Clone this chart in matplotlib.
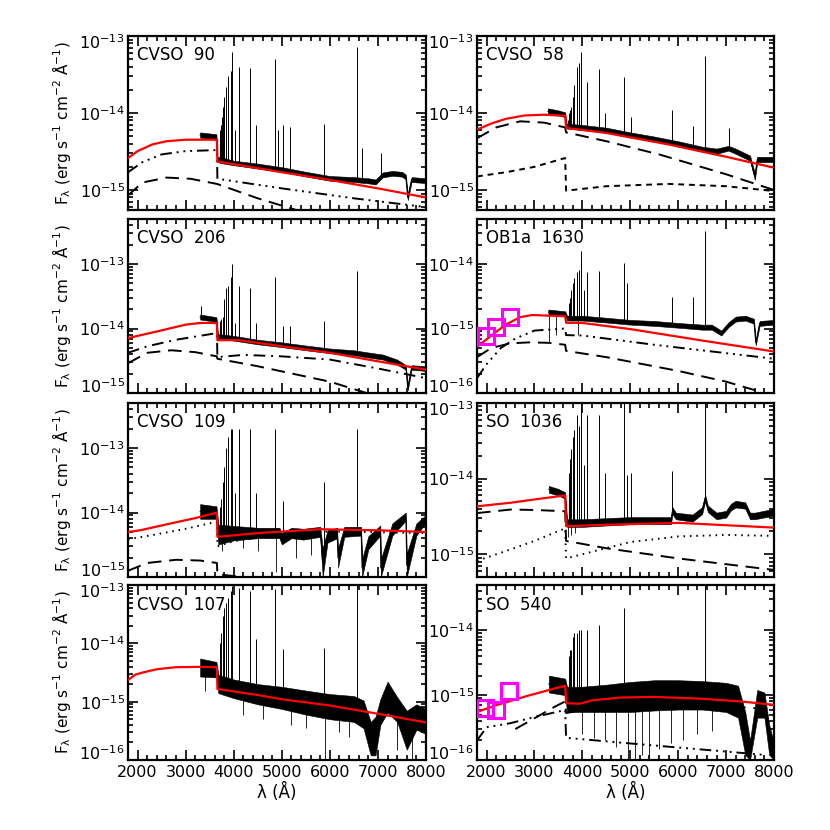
import numpy as np
import matplotlib
matplotlib.use("Agg")
import matplotlib.pyplot as plt
from matplotlib.ticker import LogLocator, NullFormatter, MultipleLocator, FixedLocator, FuncFormatter

plt.rcParams['font.family'] = ['DejaVu Sans']
plt.rcParams['mathtext.default'] = 'regular'

# ---------------- data ----------------
XTICKS = [2000, 3000, 4000, 5000, 6000, 7000, 8000]

# CVSO 90
cvso90_total = [(1800,2.6e-15),(2000,3.2e-15),(2300,3.9e-15),(2600,4.3e-15),(3000,4.5e-15),(3650,4.5e-15),(3660,2.35e-15),(5000,1.7e-15),(6000,1.35e-15),(7000,1.05e-15),(8000,8e-16)]
cvso90_ddd = [(1800,1.7e-15),(2100,2.3e-15),(2500,2.9e-15),(3000,3.2e-15),(3650,3.3e-15),(3660,1.4e-15),(5000,1.05e-15),(6500,7.8e-16),(8000,6e-16)]
cvso90_ld = [(1800,8.5e-16),(2100,1.25e-15),(2600,1.45e-15),(3100,1.4e-15),(3650,1.2e-15),(4500,7.8e-16),(5300,5.5e-16)]
cvso90_spec_wl = [3300,3640,3660,3800,4000,4500,5000,5500,6000,6500,6800,6950,7100,7300,7500,7580,7620,7700,8000]
cvso90_spec_lo = [4.8e-15,4.5e-15,2.3e-15,2.2e-15,2.1e-15,1.9e-15,1.72e-15,1.5e-15,1.32e-15,1.27e-15,1.22e-15,1.18e-15,1.46e-15,1.53e-15,1.49e-15,1.37e-15,7.4e-16,1.27e-15,1.23e-15]
cvso90_spec_hi = [5.6e-15,5.3e-15,2.7e-15,2.6e-15,2.4e-15,2.2e-15,1.98e-15,1.72e-15,1.52e-15,1.47e-15,1.42e-15,1.37e-15,1.69e-15,1.77e-15,1.72e-15,1.59e-15,8.6e-16,1.47e-15,1.42e-15]
cvso90_lines = [(3704,4e-15),(3712,5e-15),(3722,6e-15),(3734,7e-15),(3750,9e-15),(3771,1.2e-14),(3798,1.6e-14),(3835,2.2e-14),(3889,3.0e-14),(3934,3.5e-14),(3970,6.2e-14),(4026,6e-15),(4102,4.0e-14),(4340,3.8e-14),(4471,7e-15),(4861,5.1e-14),(4924,6e-15),(5018,7e-15),(5169,6.5e-15),(5876,7.2e-15),(6563,7.2e-14),(6678,3.5e-15),(7065,3e-15)]
cvso90_dips = []

# CVSO 58
cvso58_total = [(1800,6.1e-15),(2100,7.3e-15),(2400,8.4e-15),(2800,9.3e-15),(3200,9.5e-15),(3640,9.2e-15),(3660,6.4e-15),(4500,5.5e-15),(5800,3.9e-15),(7000,2.7e-15),(8000,1.95e-15)]
cvso58_ld = [(1800,4.7e-15),(2200,6.5e-15),(2700,7.8e-15),(3200,7.5e-15),(3640,6.5e-15),(3660,5.6e-15),(4500,4.3e-15),(5600,2.9e-15),(7000,1.6e-15),(8000,1.0e-15)]
cvso58_sd = [(1800,1.5e-15),(2400,1.7e-15),(3000,2.0e-15),(3640,2.6e-15),(3660,0.98e-15),(4500,1.12e-15),(5800,1.2e-15),(7000,1.12e-15),(8000,0.97e-15)]
cvso58_spec_wl = [3280,3500,3640,3670,4000,4500,5000,5500,6000,6500,6800,7050,7200,7500,7600,7650,8000]
cvso58_spec_lo = [9.6e-15,9.3e-15,8.8e-15,6.3e-15,6.0e-15,5.6e-15,4.85e-15,4.3e-15,3.7e-15,3.15e-15,2.95e-15,3.25e-15,2.95e-15,2.4e-15,1.35e-15,2.3e-15,2.3e-15]
cvso58_spec_hi = [1.15e-14,1.08e-14,1.02e-14,7.3e-15,7.0e-15,6.45e-15,5.6e-15,4.95e-15,4.3e-15,3.65e-15,3.45e-15,3.75e-15,3.45e-15,2.8e-15,1.65e-15,2.7e-15,2.7e-15]
cvso58_lines = [(3704,8e-15),(3712,9e-15),(3722,1.0e-14),(3734,1.1e-14),(3770,1.2e-14),(3798,1.6e-14),(3835,2.3e-14),(3889,3.9e-14),(3934,4.4e-14),(3970,6.2e-14),(4102,2.5e-14),(4340,3.7e-14),(4471,1.0e-14),(4861,2.9e-14),(5018,9e-15),(5876,1.1e-14),(6300,6.7e-15),(6563,5.5e-14),(7065,6.3e-15)]
cvso58_dips = []

# CVSO 206
cvso206_total = [(1800,7.1e-15),(2100,8.0e-15),(2400,9.0e-15),(3000,1.15e-14),(3300,1.22e-14),(3650,1.22e-14),(3660,6.6e-15),(4100,6.6e-15),(5000,5.3e-15),(6000,4.2e-15),(7000,3.1e-15),(8000,2.3e-15)]
cvso206_dd = [(1800,4.2e-15),(2200,5.3e-15),(2800,6.7e-15),(3650,8.5e-15),(3660,3.6e-15),(4200,3.9e-15),(5000,3.7e-15),(6000,3.3e-15),(7000,2.4e-15),(8000,1.7e-15)]
cvso206_ld = [(1800,2.9e-15),(2200,4.2e-15),(2700,4.6e-15),(3200,4.3e-15),(3650,3.7e-15),(3660,3.4e-15),(4500,2.6e-15),(5500,1.8e-15),(6000,1.5e-15),(6800,0.98e-15)]
cvso206_spec_wl = [3300,3640,3670,4000,4500,5000,5500,6000,6500,6800,7100,7400,7580,7620,7700,8000]
cvso206_spec_lo = [1.38e-14,1.27e-14,6.9e-15,6.5e-15,5.7e-15,5.15e-15,4.6e-15,4.15e-15,3.85e-15,3.55e-15,3.3e-15,2.75e-15,2.3e-15,1.1e-15,2.3e-15,2.2e-15]
cvso206_spec_hi = [1.65e-14,1.5e-14,8.2e-15,7.7e-15,6.7e-15,6.1e-15,5.45e-15,4.9e-15,4.6e-15,4.25e-15,3.95e-15,3.3e-15,2.7e-15,1.3e-15,2.7e-15,2.6e-15]
cvso206_lines = [(3310,2.2e-14),(3704,9e-15),(3712,1.1e-14),(3722,1.3e-14),(3734,1.4e-14),(3770,1.5e-14),(3798,2.9e-14),(3835,4.2e-14),(3889,4.5e-14),(3934,6.3e-14),(3970,1.0e-13),(4026,1.2e-14),(4102,4.6e-14),(4340,4.3e-14),(4471,1.2e-14),(4861,6.3e-14),(5018,1.1e-14),(5169,1.1e-14),(5876,1.3e-14),(6563,7.9e-14)]
cvso206_dips = []

# OB1a 1630
ob1630_total = [(1800,5.2e-16),(2100,7.8e-16),(2400,1.15e-15),(2700,1.5e-15),(2950,1.62e-15),(3640,1.55e-15),(3660,1.23e-15),(4000,1.22e-15),(5000,9.8e-16),(6450,6.6e-16),(8000,4.4e-16)]
ob1630_ddd = [(1800,1.7e-16),(2000,2.8e-16),(2300,5.0e-16),(2600,7.0e-16),(3000,9.3e-16),(3640,1.0e-15),(3660,7.9e-16),(4000,7.8e-16),(5500,5.6e-16),(8000,3.4e-16)]
ob1630_ld = [(1800,3.6e-16),(2100,5.0e-16),(2500,5.9e-16),(2900,6.1e-16),(3300,6.0e-16),(3640,5.6e-16),(3660,4.5e-16),(4500,3.6e-16),(6000,2.2e-16),(7000,1.5e-16),(7800,1.0e-16)]
ob1630_phot_wl = [1990, 2200, 2480]
ob1630_phot_f = [7.7e-16, 1.07e-15, 1.5e-15]
ob1630_spec_wl = [3290,3640,3680,4000,4500,5000,5500,6000,6500,6700,6900,7050,7200,7400,7580,7620,7700,8000]
ob1630_spec_lo = [1.65e-15,1.56e-15,1.33e-15,1.33e-15,1.24e-15,1.15e-15,1.1e-15,1.03e-15,9.6e-16,9.6e-16,7.8e-16,1.05e-15,1.28e-15,1.33e-15,1.19e-15,5.5e-16,1.1e-15,1.15e-15]
ob1630_spec_hi = [1.97e-15,1.85e-15,1.58e-15,1.58e-15,1.47e-15,1.36e-15,1.31e-15,1.22e-15,1.15e-15,1.15e-15,9.3e-16,1.25e-15,1.53e-15,1.58e-15,1.42e-15,6.5e-16,1.31e-15,1.36e-15]
ob1630_lines = [(3712,2.5e-15),(3734,3e-15),(3770,4e-15),(3798,5e-15),(3835,6e-15),(3889,7.5e-15),(3934,8e-15),(3970,1.6e-14),(4026,4e-15),(4102,7.5e-15),(4340,7.7e-15),(4861,1.05e-14),(4924,5e-15),(5876,3.1e-15),(6300,3.1e-15),(6563,3.2e-14)]
ob1630_dips = [(3300,6e-16),(3450,8e-16),(3900,8e-16)]

# CVSO 109
cvso109_total = [(1800,5.0e-15),(2050,5.3e-15),(2700,6.8e-15),(3200,8.2e-15),(3650,1.0e-14),(3660,4.2e-15),(4500,4.8e-15),(5800,5.5e-15),(7000,5.3e-15),(8000,5.0e-15)]
cvso109_dot = [(1800,3.85e-15),(2400,4.6e-15),(3000,5.6e-15),(3650,7.2e-15),(3660,3.0e-15),(4000,3.6e-15),(5000,4.6e-15),(6000,5.1e-15),(8000,4.8e-15)]
cvso109_ld = [(1800,1.25e-15),(2200,1.65e-15),(2800,1.85e-15),(3300,1.8e-15),(3650,1.65e-15),(3660,1.1e-15),(4200,1.0e-15),(5000,0.9e-15)]
cvso109_spec_wl = [3300,3640,3680,4000,4500,4950,5000,5200,5450,5800,5850,5950,6150,6170,6300,6650,6670,6800,7050,7060,7300,7580,7600,7800,8000]
cvso109_spec_lo = [8e-15,8e-15,3.2e-15,3.7e-15,4.0e-15,4.0e-15,3.2e-15,4.0e-15,3.8e-15,4.2e-15,1.0e-15,3.4e-15,4.0e-15,1.4e-15,4.2e-15,4.4e-15,1.0e-15,2.7e-15,4.4e-15,1.0e-15,4.4e-15,7.5e-15,1.0e-15,4.4e-15,7e-15]
cvso109_spec_hi = [1.35e-14,1.25e-14,6.5e-15,6.2e-15,5.8e-15,5.8e-15,4.8e-15,5.8e-15,5.6e-15,6.0e-15,2.8e-15,5.3e-15,5.8e-15,2.8e-15,6.0e-15,6.0e-15,1.9e-15,4.3e-15,6.3e-15,1.9e-15,6.8e-15,1.0e-14,2.3e-15,6.8e-15,9.2e-15]
cvso109_lines = [(3712,1.2e-14),(3734,1.6e-14),(3770,3e-14),(3798,5e-14),(3835,1.0e-13),(3889,1.5e-13),(3934,2e-13),(3970,2e-13),(4026,2e-14),(4102,2e-13),(4340,2e-13),(4471,2e-14),(4861,2e-13),(5018,1.5e-14),(5876,3e-14),(6563,2e-13)]
cvso109_dips = [(3760,2.5e-15),(4200,2.8e-15),(4500,2.5e-15),(4880,1.2e-15),(5300,2e-15),(5600,2.2e-15)]

# SO 1036
so1036_total = [(1800,4.3e-15),(2500,4.8e-15),(3000,5.3e-15),(3640,6.0e-15),(3660,2.35e-15),(4500,2.45e-15),(6000,2.6e-15),(8000,2.25e-15)]
so1036_ld = [(1800,3.5e-15),(2500,3.9e-15),(3000,3.85e-15),(3640,3.7e-15),(3660,1.5e-15),(4500,1.2e-15),(6000,8.8e-16),(8000,6.2e-16)]
so1036_dot = [(1800,8.2e-16),(2400,1.1e-15),(3000,1.5e-15),(3640,2.2e-15),(3660,8.8e-16),(4000,1.0e-15),(5000,1.45e-15),(6000,1.72e-15),(7000,1.8e-15),(8000,1.75e-15)]
so1036_spec_wl = [3300,3500,3640,3680,4000,4500,5000,5500,5850,5880,5950,6300,6500,6563,6620,6800,7000,7100,7200,7400,7500,7600,8000]
so1036_spec_lo = [6.5e-15,6.0e-15,5.4e-15,2.3e-15,2.3e-15,2.4e-15,2.5e-15,2.5e-15,2.5e-15,3.4e-15,2.9e-15,2.7e-15,3.4e-15,5.0e-15,3.6e-15,2.9e-15,3.05e-15,3.8e-15,4.15e-15,4.0e-15,2.9e-15,2.9e-15,3.25e-15]
so1036_spec_hi = [8.0e-15,7.3e-15,6.6e-15,2.9e-15,2.9e-15,3.0e-15,3.1e-15,3.1e-15,3.1e-15,4.2e-15,3.55e-15,3.35e-15,4.2e-15,6.1e-15,4.4e-15,3.55e-15,3.75e-15,4.65e-15,5.1e-15,4.85e-15,3.55e-15,3.55e-15,4.0e-15]
so1036_lines = [(3712,1.2e-14),(3734,1.8e-14),(3770,2.5e-14),(3798,3.5e-14),(3835,4.4e-14),(3889,7e-14),(3934,5e-14),(3970,1e-13),(4026,1.5e-14),(4102,7e-14),(4340,7e-14),(4471,1.2e-14),(4861,1e-13),(4924,1.1e-14),(5018,1.2e-14),(5876,1.25e-14),(6563,1e-13)]
so1036_dips = [(3700,1.7e-15),(3760,1.8e-15),(3850,1.9e-15)]

# CVSO 107
cvso107_total = [(1800,2.35e-15),(1950,2.9e-15),(2100,3.15e-15),(2400,3.6e-15),(2800,3.9e-15),(3300,3.95e-15),(3650,3.9e-15),(3660,1.65e-15),(4500,1.3e-15),(5000,1.1e-15),(6000,8.6e-16),(7000,6.2e-16),(8000,4.4e-16)]
cvso107_spec_wl = [3300,3640,3680,4000,4500,5000,5500,6000,6500,6700,6850,6950,7050,7200,7400,7600,7800,8000]
cvso107_spec_lo = [2.7e-15,2.6e-15,1.4e-15,1.15e-15,9e-16,7.5e-16,6e-16,5e-16,4.5e-16,3.5e-16,1.2e-16,1.2e-16,4e-16,6.5e-16,4.5e-16,1.5e-16,3.3e-16,2.8e-16]
cvso107_spec_hi = [5.5e-15,4.8e-15,2.9e-15,2.4e-15,2.0e-15,1.8e-15,1.55e-15,1.35e-15,1.25e-15,1.05e-15,4.5e-16,5.5e-16,1.1e-15,2.2e-15,1.2e-15,7e-16,9e-16,7.5e-16]
cvso107_lines = [(3712,1e-14),(3734,1.5e-14),(3770,3e-14),(3798,4e-14),(3835,5e-14),(3889,6e-14),(3934,8e-14),(3970,9.5e-14),(4102,9e-14),(4340,8e-14),(4471,1.2e-14),(4861,8.5e-14),(5018,8e-15),(5876,8.2e-15),(6563,1e-13)]
cvso107_dips = [(3400,1.5e-15),(4200,6e-16),(4600,5e-16),(5200,4e-16),(5500,3.5e-16),(5890,1e-16),(6200,3e-16),(6400,2.5e-16),(7400,1.5e-16),(7700,1e-16)]

# SO 540
so540_total = [(1800,5.5e-16),(2200,7.0e-16),(2800,9.5e-16),(3300,1.2e-15),(3640,1.4e-15),(3660,7.5e-16),(3950,7.4e-16),(4200,8.3e-16),(4800,9.2e-16),(5500,9.4e-16),(6500,8.8e-16),(7300,8.0e-16),(8000,7.1e-16)]
so540_ddd = [(1800,2.0e-16),(2000,3.2e-16),(2500,3.7e-16),(3000,4.6e-16),(3640,5.9e-16),(3660,2.2e-16),(5000,1.8e-16),(6500,1.45e-16),(7800,1.2e-16)]
so540_ld = [(2600,3.0e-16),(3000,4.4e-16),(3400,6.5e-16),(3640,8.0e-16),(3660,5.3e-16),(4500,6.8e-16),(5500,7.4e-16),(6500,7.2e-16),(8000,6.0e-16)]
so540_phot_wl = [1970, 2200, 2470]
so540_phot_f = [6.3e-16, 5.8e-16, 1.16e-15]
so540_spec_wl = [3300,3640,3680,4000,4500,5000,5500,6000,6500,7000,7250,7400,7500,7650,7800,7900,8000]
so540_spec_lo = [1.1e-15,1.0e-15,5.5e-16,5.5e-16,5.5e-16,5.5e-16,5.8e-16,6e-16,6e-16,5.5e-16,4.5e-16,1.2e-16,1e-16,4.5e-16,4.5e-16,1.2e-16,1e-16]
so540_spec_hi = [2.0e-15,1.8e-15,1.35e-15,1.35e-15,1.45e-15,1.6e-15,1.7e-15,1.7e-15,1.65e-15,1.55e-15,1.4e-15,5.5e-16,2e-16,1.2e-15,1.1e-15,3.5e-16,1.8e-16]
so540_lines = [(3712,4e-15),(3734,5e-15),(3770,5e-15),(3798,8e-15),(3835,9e-15),(3889,9e-15),(3934,1.0e-14),(3970,1.0e-14),(4102,1.0e-14),(4340,1.2e-14),(4861,2.2e-14),(6563,5e-14)]
so540_dips = [(4000,2.5e-16),(4250,2.2e-16),(4480,2e-16),(4700,1.6e-16),(4950,1e-16),(5100,1e-16),(5250,1.2e-16),(5400,1e-16),(5600,1.5e-16),(5850,1.8e-16),(6100,2e-16),(6400,2.5e-16),(6700,2.8e-16)]

# ---------------- layout / styles ----------------
STY = {
    'red': dict(color='#ff0000', lw=1.6, ls='-'),
    'ddd': dict(color='black', lw=1.4, ls=(0, (6, 2.5, 1, 2.5, 1, 2.5, 1, 2.5))),
    'dd':  dict(color='black', lw=1.4, ls=(0, (6, 3, 1, 3))),
    'ld':  dict(color='black', lw=1.4, ls=(0, (7, 4))),
    'sd':  dict(color='black', lw=1.4, ls=(0, (3, 2.5))),
    'dot': dict(color='black', lw=1.4, ls=(0, (0.8, 2.5))),
}

panels = [
    dict(name='CVSO  90', ylim=(5.5e-16, 1e-13), col=0, row=0,
         comps=[(cvso90_ld, 'ld'), (cvso90_ddd, 'ddd'), (cvso90_total, 'red')],
         spec=(cvso90_spec_wl, cvso90_spec_lo, cvso90_spec_hi), lines=cvso90_lines, dips=cvso90_dips, phot=None),
    dict(name='CVSO  58', ylim=(5.5e-16, 1e-13), col=1, row=0,
         comps=[(cvso58_ld, 'ld'), (cvso58_sd, 'sd'), (cvso58_total, 'red')],
         spec=(cvso58_spec_wl, cvso58_spec_lo, cvso58_spec_hi), lines=cvso58_lines, dips=cvso58_dips, phot=None),
    dict(name='CVSO  206', ylim=(1e-15, 5e-13), col=0, row=1,
         comps=[(cvso206_ld, 'ld'), (cvso206_dd, 'dd'), (cvso206_total, 'red')],
         spec=(cvso206_spec_wl, cvso206_spec_lo, cvso206_spec_hi), lines=cvso206_lines, dips=cvso206_dips, phot=None),
    dict(name='OB1a  1630', ylim=(1e-16, 5e-14), col=1, row=1,
         comps=[(ob1630_ld, 'ld'), (ob1630_ddd, 'ddd'), (ob1630_total, 'red')],
         spec=(ob1630_spec_wl, ob1630_spec_lo, ob1630_spec_hi), lines=ob1630_lines, dips=ob1630_dips,
         phot=(ob1630_phot_wl, ob1630_phot_f)),
    dict(name='CVSO  109', ylim=(1e-15, 5e-13), col=0, row=2,
         comps=[(cvso109_ld, 'ld'), (cvso109_dot, 'dot'), (cvso109_total, 'red')],
         spec=(cvso109_spec_wl, cvso109_spec_lo, cvso109_spec_hi), lines=cvso109_lines, dips=cvso109_dips, phot=None),
    dict(name='SO  1036', ylim=(5e-16, 1e-13), col=1, row=2,
         comps=[(so1036_ld, 'ld'), (so1036_dot, 'dot'), (so1036_total, 'red')],
         spec=(so1036_spec_wl, so1036_spec_lo, so1036_spec_hi), lines=so1036_lines, dips=so1036_dips, phot=None),
    dict(name='CVSO  107', ylim=(1e-16, 1e-13), col=0, row=3,
         comps=[(cvso107_total, 'red')],
         spec=(cvso107_spec_wl, cvso107_spec_lo, cvso107_spec_hi), lines=cvso107_lines, dips=cvso107_dips, phot=None),
    dict(name='SO  540', ylim=(1e-16, 5e-14), col=1, row=3,
         comps=[(so540_ld, 'ld'), (so540_ddd, 'ddd'), (so540_total, 'red')],
         spec=(so540_spec_wl, so540_spec_lo, so540_spec_hi), lines=so540_lines, dips=so540_dips,
         phot=(so540_phot_wl, so540_phot_f)),
]

W = 830.0
col_x = [(128, 426), (477, 774)]
row_y = [(36, 210), (219, 393), (403, 577), (585, 760)]
LABEL_FS = 11.5


def decade_label(v):
    return r'$10^{%d}$' % int(round(np.log10(v)))


fig = plt.figure(figsize=(8.3, 8.3), dpi=100)

for p in panels:
    x0, x1 = col_x[p['col']]
    yt, yb = row_y[p['row']]
    ax = fig.add_axes([x0 / W, 1 - yb / W, (x1 - x0) / W, (yb - yt) / W])
    ax.set_yscale('log')
    ax.set_xlim(1800, 8000)
    ymin, ymax = p['ylim']
    ax.set_ylim(ymin, ymax)

    # observed spectrum: noise envelope, emission lines, absorption spikes
    wl, lo, hi = p['spec']
    wl = np.asarray(wl, float); lo = np.asarray(lo); hi = np.asarray(hi)
    mid = np.sqrt(lo * hi)
    ax.fill_between(wl, lo, hi, color='black', lw=0.4, zorder=2)
    ax.plot(wl, mid, color='black', lw=0.7, zorder=2)
    if p['lines']:
        lx = np.array([l[0] for l in p['lines']], float)
        ly = np.array([l[1] for l in p['lines']])
        base = np.exp(np.interp(lx, wl, np.log(mid)))
        ax.vlines(lx, base, ly, color='black', lw=0.7, zorder=2)
    if p['dips']:
        dx = np.array([d[0] for d in p['dips']], float)
        dy = np.array([d[1] for d in p['dips']])
        base = np.exp(np.interp(dx, wl, np.log(mid)))
        ax.vlines(dx, dy, base, color='black', lw=0.6, zorder=2)

    # model components
    for pts, st in p['comps']:
        xs = [q[0] for q in pts]; ys = [q[1] for q in pts]
        z = 4 if st == 'red' else 3
        ax.plot(xs, ys, zorder=z, **STY[st])

    if p['phot'] is not None:
        ax.plot(p['phot'][0], p['phot'][1], ls='none', marker='s', ms=11,
                mfc='none', mec='#ff00ff', mew=2.2, zorder=5)

    ax.text(0.03, 0.94, p['name'], transform=ax.transAxes, ha='left', va='top',
            fontsize=12, zorder=6)

    # axes styling
    for s in ax.spines.values():
        s.set_linewidth(1.6)
    ax.xaxis.set_major_locator(FixedLocator(XTICKS))
    ax.xaxis.set_minor_locator(MultipleLocator(200))
    ax.yaxis.set_major_locator(LogLocator(base=10, numticks=20))
    ax.yaxis.set_minor_locator(LogLocator(base=10, subs=np.arange(2, 10), numticks=20))
    ax.yaxis.set_minor_formatter(NullFormatter())

    # decade labels; the ones sitting on the frame edges are nudged inward
    def _fmt(v, pos, lo_=ymin, hi_=ymax):
        if abs(np.log10(v) - np.log10(lo_)) < 0.01 or abs(np.log10(v) - np.log10(hi_)) < 0.01:
            return ''
        return decade_label(v)
    ax.yaxis.set_major_formatter(FuncFormatter(_fmt))
    for v, dy in ((ymin, 5.5), (ymax, -3.5)):
        if abs(np.log10(v) - round(np.log10(v))) < 0.01:
            ax.annotate(decade_label(v), xy=(0, v), xycoords=('axes fraction', 'data'),
                        xytext=(-2.5, dy), textcoords='offset points',
                        ha='right', va='center_baseline', fontsize=LABEL_FS,
                        annotation_clip=False)

    ax.tick_params(which='both', direction='in', top=True, right=True, width=1.2, labelsize=LABEL_FS)
    ax.tick_params(which='major', length=7)
    ax.tick_params(which='minor', length=3.5)
    ax.tick_params(axis='y', which='major', pad=2.5)
    if p['row'] == 3:
        ax.set_xlabel('λ (Å)', fontsize=12, labelpad=2)
    else:
        ax.tick_params(axis='x', labelbottom=False)
    if p['col'] == 0:
        ax.set_ylabel(r'F$_\lambda$ (erg s$^{-1}$ cm$^{-2}$ Å$^{-1}$)', fontsize=11, labelpad=4)

fig.savefig('out.png', dpi=100)
